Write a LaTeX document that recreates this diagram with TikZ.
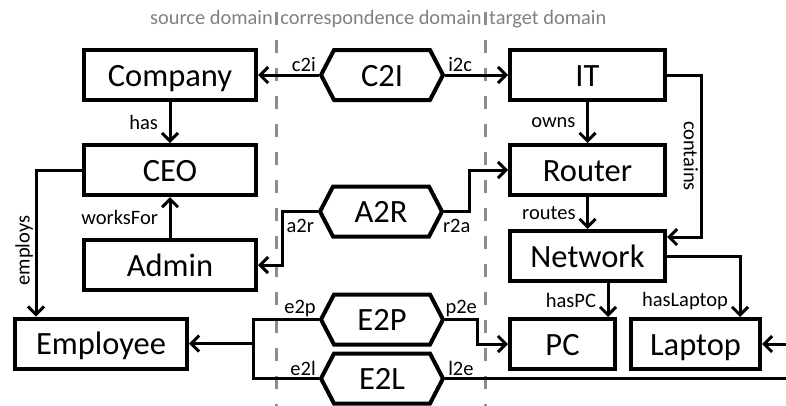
\documentclass[tikz,border=0pt]{standalone}
\usepackage{fontspec}
\setmainfont{Carlito}
\usetikzlibrary{arrows.meta,shapes.symbols}
\definecolor{sepgray}{HTML}{8C8C8C}
\definecolor{headgray}{HTML}{808080}

\begin{document}
\begin{tikzpicture}[x=1pt,y=-1pt,
	box/.style={draw,line width=4pt,minimum height=50pt,inner sep=0pt,text height=22.5pt,text depth=0pt,font=\fontsize{32.5}{36}\selectfont},
	corr/.style={draw,line width=4pt,signal,signal to=west and east,signal pointer angle=125,minimum width=122pt,minimum height=50pt,inner sep=0pt,text height=22.5pt,text depth=0pt,font=\fontsize{32.5}{36}\selectfont},
	conn/.style={line width=3pt,-{Straight Barb[length=8pt,width=16pt]}},
	link/.style={line width=3pt},
	lbl/.style={inner sep=1.5pt,font=\fontsize{20.5}{24}\selectfont},
	sep/.style={line width=3pt,color=sepgray,dash pattern=on 13pt off 15pt},
	head/.style={inner sep=0pt,text=headgray,font=\fontsize{20.4}{24}\selectfont}]
	\useasboundingbox (0,0) rectangle (786,405);
	\clip (0,0) rectangle (786,405);
	% domains
	\foreach \x in {276,485}
		\draw[sep] (\x,12) -- (\x,420);
	\node[head,anchor=base east] (srchead) at (273,24.5) {source domain};
	\node[head,anchor=base] (corrhead) at (381,24.5) {correspondence domain};
	\node[head,anchor=base west] (tgthead) at (489,24.5) {target domain};

	\node[box,minimum width=172pt] (company) at (170,75) {Company};
	\node[box,minimum width=172pt] (ceo) at (170,170) {CEO};
	\node[box,minimum width=172pt] (admin) at (170,265) {Admin};
	\node[box,minimum width=172pt] (employee) at (101,343.5) {Employee};

	\node[corr] (c2i) at (382,75) {C2I};
	\node[corr] (a2r) at (381,211.5) {A2R};
	\node[corr] (e2p) at (382,319.5) {E2P};
	\node[corr] (e2l) at (382,378.5) {E2L};

	\node[box,minimum width=155pt] (it) at (587.5,75) {IT};
	\node[box,minimum width=155pt] (router) at (587.5,170) {Router};
	\node[box,minimum width=155pt] (network) at (587.5,256) {Network};
	\node[box,minimum width=105pt] (pc) at (562.5,344) {PC};
	\node[box,minimum width=129pt] (laptop) at (695.5,344) {Laptop};

	\coordinate (emerge) at (253,343.5);
	\coordinate (offright) at (800,378.5);
	\coordinate (pcin) at ([xshift=45.5pt]pc.north);
	\coordinate (laptopin) at ([xshift=44.5pt]laptop.north);

	\draw[conn] (c2i.west) -- node[lbl,above left,pos=0]{c2i} (company.east);
	\draw[conn] (c2i.east) -- node[lbl,above right,pos=0]{i2c} (it.west);
	\draw[conn] (company) -- node[lbl,left=9pt]{has} (ceo);
	\draw[conn] (admin) -- node[lbl,left=9pt]{worksFor} (ceo);
	\draw[conn] (ceo.west) -| node[lbl,rotate=90,anchor=south,pos=0.775]{employs} ([xshift=23pt]employee.north west);
	\draw[conn] (a2r.west) -- node[lbl,below=5pt]{a2r} ++(-35,0) |- (admin.east);
	\draw[conn] (a2r.east) -- node[lbl,below=5pt]{r2a} ++(25,0) |- (router.west);
	\draw[conn] (it) -- node[lbl,left=9pt]{owns} (router);
	\draw[conn] (router) -- node[lbl,left=9pt]{routes} (network);
	\draw[conn] (it.east) -- ++(34,0) |- node[lbl,rotate=-90,anchor=north,pos=0.25]{contains} ([yshift=19pt]network.east);
	\draw[conn] (pcin |- network.south) -- node[lbl,left=9pt]{hasPC} (pcin);
	\draw[conn] (network.east) -| node[lbl,left=9pt,pos=0.87]{hasLaptop} (laptopin);
	\draw[link] (e2p.west) -| node[lbl,above left,pos=0]{e2p} (emerge);
	\draw[link] (e2l.west) -| node[lbl,above left,pos=0]{e2l} (emerge);
	\draw[conn] (emerge) -- (employee.east);
	\draw[conn] (e2p.east) -- node[lbl,above]{p2e} ++(32,0) |- (pc.west);
	\draw[conn] (e2l.east) -- node[lbl,above right,pos=0]{l2e} (offright) |- (laptop.east);
\end{tikzpicture}
\end{document}
